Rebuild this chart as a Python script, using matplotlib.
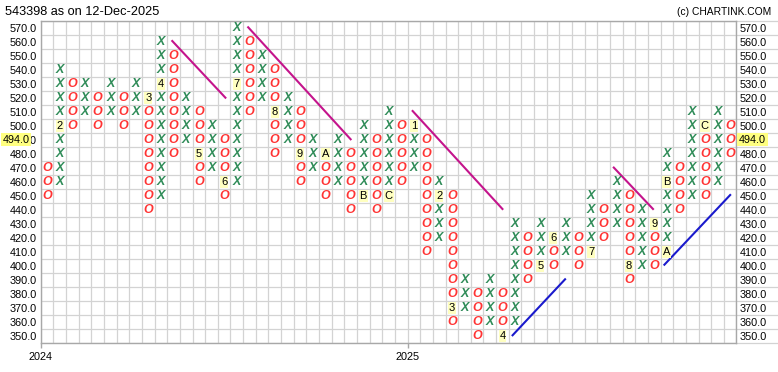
#! /usr/bin/env python
# coding: utf-8

import numpy as np
import matplotlib
matplotlib.use('Agg')
from matplotlib import pyplot as plt
import matplotlib.transforms as mtransforms

plt.rcParams['font.family'] = 'sans-serif'
plt.rcParams['font.sans-serif'] = ['Liberation Sans', 'DejaVu Sans']

# point & figure columns (box size 10), types alternate O / X
box = 10
col_kind = ['O', 'X'] * 27 + ['O']
col_low = [450, 460, 500, 510, 500, 510, 500, 510, 440, 450,
           480, 490, 460, 470, 450, 460, 510, 520, 480, 490,
           460, 470, 450, 460, 440, 450, 440, 450, 460, 470,
           410, 420, 360, 370, 350, 360, 350, 360, 390, 400,
           400, 410, 400, 410, 420, 430, 390, 400, 400, 410,
           440, 450, 450, 460, 480]
col_high = [470, 540, 530, 530, 520, 530, 520, 530, 520, 560,
            550, 520, 510, 500, 490, 570, 560, 550, 540, 520,
            510, 490, 480, 490, 480, 500, 490, 510, 500, 500,
            490, 460, 450, 390, 380, 390, 380, 430, 420, 430,
            420, 430, 420, 450, 440, 460, 450, 440, 430, 480,
            470, 510, 500, 510, 500]

# month markers (1-9, A-C) that replace a box
month_col = [1, 8, 9, 12, 14, 15, 18, 20, 22, 25, 27,
             29, 31, 32, 36, 39, 40, 43, 46, 48, 49, 49, 52]
month_lvl = [500, 520, 530, 480, 460, 530, 510, 480, 480, 450, 450,
             500, 450, 370, 350, 400, 420, 410, 400, 430, 410, 460, 500]
month_txt = ['2', '3', '4', '5', '6', '7', '8', '9', 'A', 'B', 'C',
             '1', '2', '3', '4', '5', '6', '7', '8', '9', 'A', 'B', 'C']

# trend lines (column, price)
down_x = [(10.4, 14.6), (16.4, 24.5), (29.4, 36.5), (45.3, 48.4)]
down_y = [(560.5, 520.0), (570.3, 490.3), (510.5, 440.5), (470.1, 440.5)]
up_x = [(37.3, 41.45), (49.3, 54.5)]
up_y = [(350.3, 390.3), (400.7, 450.5)]

price_ticks = list(range(350, 571, 10))
year_pos = [0, 29]
year_lbl = ['2024', '2025']
last_price = 494.0
ticker = '543398'
asof = '12-Dec-2025'

W, H = 778, 372
fig = plt.figure(figsize=(W / 100, H / 100), dpi=100)
ax = fig.add_axes([40.7 / W, 29.3 / H, 695.8 / W, 322 / H])
ncol = len(col_kind)
ax.set_xlim(0, ncol)
ax.set_ylim(345, 575)

gcol = '#d3d3d3'
for i in range(ncol + 1):
    ax.axvline(i, color=gcol, lw=0.9, zorder=0)
for v in np.arange(345, 576, box):
    ax.axhline(v, color=gcol, lw=0.9, zorder=0)

lab = set(zip(month_col, month_lvl))
for i, k in enumerate(col_kind):
    for v in range(col_low[i], col_high[i] + box, box):
        if (i, v) in lab:
            continue
        if k == 'X':
            ax.text(i + 0.5, v, 'X', color='#2e8b57', fontsize=9, style='italic', weight='bold',
                    ha='center', va='center', zorder=3)
        else:
            ax.text(i + 0.5, v, 'O', color='#ff3333', fontsize=9, style='italic', weight='bold',
                    ha='center', va='center', zorder=3)

for c, v, t in zip(month_col, month_lvl, month_txt):
    ax.text(c + 0.5, v, t, color='black', fontsize=8, ha='center', va='center', zorder=3,
            bbox=dict(boxstyle='square,pad=0.08', fc='#ffffc0', ec='none'))

for xs, ys in zip(down_x, down_y):
    ax.plot(xs, ys, color='#c4148c', lw=1.5, zorder=2)
for xs, ys in zip(up_x, up_y):
    ax.plot(xs, ys, color='#1a1acc', lw=1.5, zorder=2)

for s in ax.spines.values():
    s.set_color('#a8a8a8')
    s.set_linewidth(1)

ax.set_yticks(price_ticks)
ax.set_yticklabels(['%.1f' % v for v in price_ticks])
ax.tick_params(axis='y', length=0, pad=2.8, labelsize=7.8)
ax.set_xticks(year_pos)
ax.set_xticklabels(year_lbl)
ax.tick_params(axis='x', length=3.5, width=1, color='#a8a8a8', pad=3, labelsize=7.8)

ax2 = ax.twinx()
ax2.set_ylim(345, 575)
ax2.set_yticks(price_ticks)
ax2.set_yticklabels(['' if v == int(last_price) // box * box else '%.1f' % v for v in price_ticks])
ax2.tick_params(axis='y', length=0, pad=2.5, labelsize=7.8)
for s in ax2.spines.values():
    s.set_visible(False)

# cell lines behind right labels
tr = mtransforms.blended_transform_factory(ax.transAxes, ax.transData)
ax.hlines(np.arange(345, 576, box), 1.0, 1.07, transform=tr, color=gcol, lw=0.9, clip_on=False)

lp_row = int(last_price) // box * box
ax.text(-0.0545, lp_row, '%.1f' % last_price, transform=tr, fontsize=7.8, ha='left', va='center',
        zorder=5, bbox=dict(boxstyle='square,pad=0.15', fc='#ffff80', ec='none'))
ax.text(1.0035, lp_row, '%.1f' % last_price, transform=tr, fontsize=7.8, ha='left', va='center',
        zorder=5, bbox=dict(boxstyle='square,pad=0.15', fc='#ffff80', ec='none'))

fig.text(5 / W, 1 - 12 / H, '%s as on %s' % (ticker, asof), fontsize=9.2, ha='left', va='center')
fig.text(771 / W, 1 - 12 / H, '(c) CHARTINK.COM', fontsize=7.4, ha='right', va='center')

fig.savefig('out.png', dpi=100)
